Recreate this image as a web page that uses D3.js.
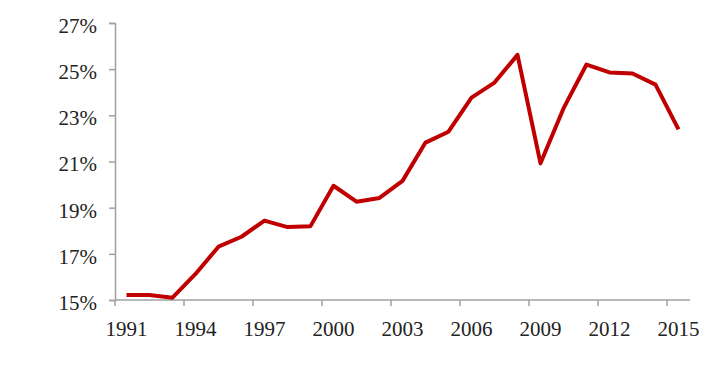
<!DOCTYPE html>
<meta charset="utf-8">
<style>
body { margin: 0; background: white; }
svg { display: block; }
.axis path, .axis line { stroke: #a0a0a0; stroke-width: 1.5px; fill: none; }
.axis text { font-family: "Liberation Serif", "Times New Roman", serif; font-size: 21px; fill: #222; }
</style>
<svg width="715" height="369"></svg>
<script src="https://d3js.org/d3.v7.min.js"></script>
<script>
var years = d3.range(1991, 2016);
var share = [15.22, 15.22, 15.1, 16.13, 17.31, 17.74, 18.44, 18.16, 18.2, 19.95,
             19.26, 19.42, 20.16, 21.82, 22.29, 23.77, 24.42, 25.62, 20.92, 23.3,
             25.2, 24.86, 24.81, 24.33, 22.39];
var yTicks = [15, 17, 19, 21, 23, 25, 27];
var xLabels = [1991, 1994, 1997, 2000, 2003, 2006, 2009, 2012, 2015];

var svg = d3.select("svg");

var x = d3.scaleBand().domain(years).range([115, 690]);
var y = d3.scaleLinear().domain([15, 27]).range([300, 23]);

// x axis: ticks at category boundaries, labels at category centres
var gx = svg.append("g").attr("class", "axis");
gx.append("line")
    .attr("x1", x.range()[0]).attr("x2", x.range()[1])
    .attr("y1", y(15)).attr("y2", y(15));
gx.selectAll(".tk").data(xLabels).enter().append("line")
    .attr("x1", function(d) { return x(d); })
    .attr("x2", function(d) { return x(d); })
    .attr("y1", y(15)).attr("y2", y(15) + 6);
gx.selectAll("text").data(xLabels).enter().append("text")
    .attr("x", function(d) { return x(d) + x.bandwidth() / 2; })
    .attr("y", 336)
    .attr("text-anchor", "middle")
    .text(function(d) { return d; });

// y axis
svg.append("g")
    .attr("class", "axis")
    .attr("transform", "translate(115,0)")
    .call(d3.axisLeft(y).tickValues(yTicks).tickSize(6).tickPadding(12)
        .tickFormat(function(d) { return d + "%"; }))
    .call(function(g) { g.selectAll("text").attr("dy", "0.45em"); });

var line = d3.line()
    .x(function(d, i) { return x(years[i]) + x.bandwidth() / 2; })
    .y(function(d) { return y(d); });

svg.append("path")
    .datum(share)
    .attr("fill", "none")
    .attr("stroke", "#c00000")
    .attr("stroke-width", 4)
    .attr("stroke-linejoin", "round")
    .attr("d", line);
</script>
